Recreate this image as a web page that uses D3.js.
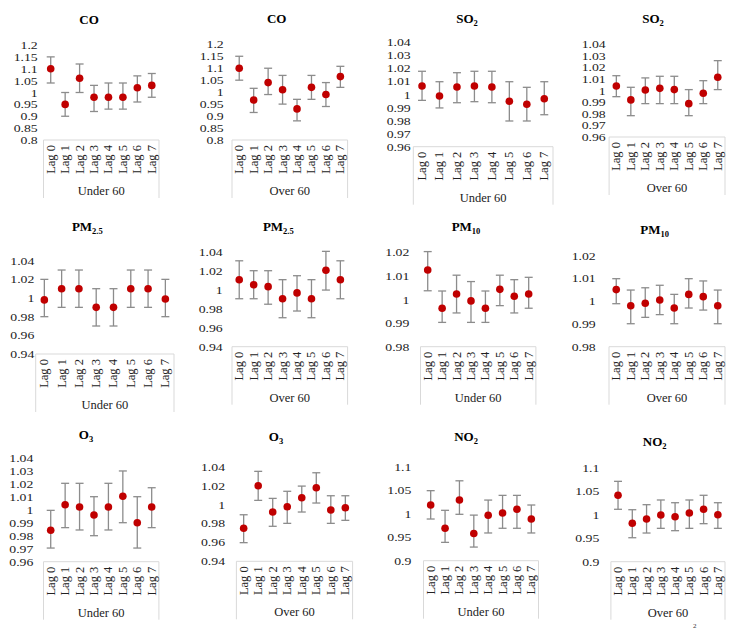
<!DOCTYPE html>
<html><head><meta charset="utf-8">
<script src="https://cdn.jsdelivr.net/npm/d3@7"></script>
<style>body{margin:0;background:#fff}svg{display:block}svg text{font-family:"Liberation Serif","DejaVu Serif",serif}</style>
</head><body>
<svg id="c" width="744" height="630"></svg>
<script>
// ---------- data ----------
const lags = ["Lag 0","Lag 1","Lag 2","Lag 3","Lag 4","Lag 5","Lag 6","Lag 7"];
const groups = ["Under 60","Over 60"];

const ticksCO  = [0.8,0.85,0.9,0.95,1,1.05,1.1,1.15,1.2];
const ticksSO2 = [0.96,0.97,0.98,0.99,1,1.01,1.02,1.03,1.04];
const ticksPM25 = [0.94,0.96,0.98,1,1.02,1.04];
const ticksPM10 = [0.98,0.99,1,1.01,1.02];
const ticksO3u = [0.96,0.97,0.98,0.99,1,1.01,1.02,1.03,1.04];
const ticksO3o = [0.94,0.96,0.98,1,1.02,1.04];
const ticksNO2 = [0.9,0.95,1,1.05,1.1];

const coUnderEst = [1.10,0.95,1.06,0.98,0.98,0.98,1.02,1.03];
const coUnderLo  = [1.04,0.90,1.00,0.92,0.93,0.93,0.96,0.98];
const coUnderHi  = [1.15,1.00,1.12,1.03,1.04,1.04,1.07,1.08];
const coOverEst  = [1.10,0.967,1.04,1.01,0.93,1.02,0.99,1.065];
const coOverLo   = [1.05,0.915,0.99,0.95,0.88,0.97,0.94,1.02];
const coOverHi   = [1.15,1.016,1.10,1.07,0.97,1.07,1.04,1.108];

const so2UnderEst = [1.0065,0.9989,1.0057,1.0065,1.0057,0.9948,0.9925,0.9968];
const so2UnderLo  = [0.9955,0.9897,0.9937,0.9945,0.9937,0.9797,0.9797,0.9845];
const so2UnderHi  = [1.0178,1.0098,1.0167,1.0178,1.0178,1.0098,1.0055,1.0098];
const so2OverEst  = [1.004,0.992,1.0006,1.002,1.0009,0.9888,0.9977,1.0116];
const so2OverLo   = [0.9948,0.9784,0.9888,0.9888,0.9888,0.9784,0.9888,1.0009];
const so2OverHi   = [1.0129,1.0029,1.011,1.0124,1.0124,1.0009,1.0086,1.0259];

const pm25UnderEst = [0.998,1.01,1.01,0.99,0.99,1.01,1.01,0.999];
const pm25UnderLo  = [0.98,0.99,0.99,0.97,0.97,0.99,0.99,0.98];
const pm25UnderHi  = [1.02,1.03,1.03,1.01,1.01,1.03,1.03,1.02];
const pm25OverEst  = [1.011,1.0057,1.0036,0.9908,0.997,0.9908,1.021,1.011];
const pm25OverLo   = [0.9908,0.9908,0.985,0.9707,0.9778,0.9707,1.0,0.9908];
const pm25OverHi   = [1.031,1.0205,1.0205,1.011,1.0152,1.011,1.041,1.031];

const pm10UnderEst = [1.0125,0.9963,1.0023,0.9994,0.9963,1.0043,1.0014,1.0023];
const pm10UnderLo  = [1.0037,0.9903,0.9943,0.9903,0.9903,0.9974,0.9943,0.9963];
const pm10UnderHi  = [1.0203,1.0036,1.0103,1.0076,1.0036,1.0103,1.0084,1.0094];
const pm10OverEst  = [1.0051,0.998,0.9991,1.0005,0.997,1.003,1.002,0.998];
const pm10OverLo   = [0.9989,0.9901,0.9929,0.9941,0.9901,0.997,0.9961,0.9901];
const pm10OverHi   = [1.0099,1.0049,1.0059,1.007,1.003,1.0099,1.0089,1.0049];

const o3UnderEst = [0.9842,1.0038,1.0021,0.9959,1.0021,1.0103,0.99,1.0021];
const o3UnderLo  = [0.9705,0.9862,0.9844,0.98,0.9844,0.99,0.9705,0.9862];
const o3UnderHi  = [0.9995,1.0203,1.0203,1.01,1.0203,1.0298,1.01,1.0169];
const o3OverEst  = [0.9749,1.0199,0.9921,0.9977,1.0072,1.0178,0.9942,0.9966];
const o3OverLo   = [0.9597,1.0044,0.977,0.9801,0.9921,1.0016,0.9801,0.9833];
const o3OverHi   = [0.9892,1.0351,1.0065,1.014,1.0195,1.0336,1.0093,1.0093];

const no2UnderEst = [1.0185,0.969,1.029,0.958,0.9966,1.0015,1.0094,0.9887];
const no2UnderLo  = [0.9887,0.939,0.9987,0.929,0.959,0.969,0.969,0.959];
const no2UnderHi  = [1.049,1.0072,1.07,0.997,1.029,1.039,1.039,1.0185];
const no2OverEst  = [1.0413,0.9817,0.9908,0.9994,0.9957,1.0035,1.0115,1.0];
const no2OverLo   = [1.0115,0.951,0.961,0.971,0.966,0.971,0.9809,0.971];
const no2OverHi   = [1.071,1.0106,1.0213,1.0313,1.0255,1.0313,1.0413,1.0255];

// ---------- panels (title, subscript, group, ticks, series) ----------
const panels = [
  {t:"CO",  s:"",   g:0, ticks:ticksCO,  est:coUnderEst, lo:coUnderLo, hi:coUnderHi},
  {t:"CO",  s:"",   g:1, ticks:ticksCO,  est:coOverEst,  lo:coOverLo,  hi:coOverHi},
  {t:"SO",  s:"2",  g:0, ticks:ticksSO2, est:so2UnderEst,lo:so2UnderLo,hi:so2UnderHi},
  {t:"SO",  s:"2",  g:1, ticks:ticksSO2, est:so2OverEst, lo:so2OverLo, hi:so2OverHi},
  {t:"PM",  s:"2.5",g:0, ticks:ticksPM25,est:pm25UnderEst,lo:pm25UnderLo,hi:pm25UnderHi},
  {t:"PM",  s:"2.5",g:1, ticks:ticksPM25,est:pm25OverEst, lo:pm25OverLo, hi:pm25OverHi},
  {t:"PM",  s:"10", g:0, ticks:ticksPM10,est:pm10UnderEst,lo:pm10UnderLo,hi:pm10UnderHi},
  {t:"PM",  s:"10", g:1, ticks:ticksPM10,est:pm10OverEst, lo:pm10OverLo, hi:pm10OverHi},
  {t:"O",   s:"3",  g:0, ticks:ticksO3u, est:o3UnderEst, lo:o3UnderLo, hi:o3UnderHi},
  {t:"O",   s:"3",  g:1, ticks:ticksO3o, est:o3OverEst,  lo:o3OverLo,  hi:o3OverHi},
  {t:"NO",  s:"2",  g:0, ticks:ticksNO2, est:no2UnderEst,lo:no2UnderLo,hi:no2UnderHi},
  {t:"NO",  s:"2",  g:1, ticks:ticksNO2, est:no2OverEst, lo:no2OverLo, hi:no2OverHi}
];

// layout: x0,x1 band range; yTop,yBot pixel of max/min tick; tx tick label right edge; title x,y
const layout = [
  [43.5,159,45,140,37.7,89,20],
  [232,347.6,44.3,140,223.7,276.7,19.3],
  [413.3,553,42.3,146.7,410.7,467,19.3],
  [609.1,725,44.3,137,605.7,653,19.3],
  [35.7,174,260.7,354,34.3,87.3,227.3],
  [232,347.6,252.3,346.7,222.7,278.3,227.3],
  [420.5,535.9,252.3,346.7,409.3,466,227.3],
  [609,725,255.7,346.7,595.7,654.7,230],
  [43.5,158.9,457.7,561.7,33.3,86,435],
  [236.4,352.6,466.7,561.3,225,276,437.3],
  [423.5,538.5,466.7,560.7,411.3,466,436.7],
  [610.9,725,467.7,561.7,599.3,654.7,441.7]
];

const svg = d3.select("#c");
const FONT = '"Liberation Serif","DejaVu Serif",serif';
const fmt = v => String(+v.toFixed(3));
const SX = 1.25;

panels.forEach((p,i)=>{
  const [x0,x1,yTop,yBot,tx,ttx,tty] = layout[i];
  const g = svg.append("g");
  const x = d3.scaleBand().domain(lags).range([x0,x1]);
  const y = d3.scaleLinear().domain([d3.min(p.ticks),d3.max(p.ticks)]).range([yBot,yTop]);

  // title
  const title = g.append("text").attr("x",ttx).attr("y",tty+4).attr("text-anchor","middle")
    .style("font-family",FONT).attr("font-weight","bold").attr("font-size",13).attr("fill","#000");
  title.append("tspan").text(p.t);
  if(p.s) title.append("tspan").attr("font-size",8.5).attr("dy",3).text(p.s);

  // y axis
  const ay = g.append("g").attr("transform",`translate(${tx},0)`)
    .call(d3.axisLeft(y).tickValues(p.ticks).tickFormat(fmt).tickSize(0).tickPadding(0));
  ay.select(".domain").remove();
  ay.attr("font-family",null);
  ay.selectAll("text").style("font-family",FONT).attr("font-size",11).attr("fill","#222")
    .attr("transform",`scale(${SX},1)`).attr("x",0);

  // category box
  const boxB = yBot + 58;
  g.append("path").attr("d",`M${x0},${boxB}V${yBot}H${x1}V${boxB}`)
    .attr("fill","none").attr("stroke","#d9d9d9").attr("stroke-width",1);

  // x axis lag labels
  const ax = g.append("g").attr("transform",`translate(0,${yBot})`)
    .call(d3.axisBottom(x).tickSize(0).tickPadding(0));
  ax.select(".domain").remove();
  ax.attr("font-family",null);
  ax.selectAll("text").style("font-family",FONT).attr("font-size",12.5).attr("fill","#222")
    .attr("text-anchor","end").attr("dy",null)
    .attr("transform","translate(4,5) rotate(-90)").attr("x",0).attr("y",0);

  g.append("text").attr("x",(x0+x1)/2).attr("y",yBot+55).attr("text-anchor","middle")
    .style("font-family",FONT).attr("font-size",12.5).attr("fill","#222").text(groups[p.g]);

  // error bars
  const cw = 4;
  const eb = g.append("g").attr("stroke","#8c8c8c").attr("stroke-width",1.3).attr("fill","none");
  lags.forEach((l,j)=>{
    const cx = x(l)+x.bandwidth()/2;
    eb.append("line").attr("x1",cx).attr("x2",cx).attr("y1",y(p.lo[j])).attr("y2",y(p.hi[j]));
    eb.append("line").attr("x1",cx-cw).attr("x2",cx+cw).attr("y1",y(p.lo[j])).attr("y2",y(p.lo[j]));
    eb.append("line").attr("x1",cx-cw).attr("x2",cx+cw).attr("y1",y(p.hi[j])).attr("y2",y(p.hi[j]));
  });
  g.append("g").selectAll("circle").data(p.est).join("circle")
    .attr("cx",(d,j)=>x(lags[j])+x.bandwidth()/2).attr("cy",d=>y(d)).attr("r",3.8)
    .attr("fill","#c00000");
});

// cut-off caption fragment at bottom
svg.append("text").attr("x",693).attr("y",628).style("font-family",FONT).attr("font-size",7).attr("fill","#333").text("2");
</script>
</body></html>
